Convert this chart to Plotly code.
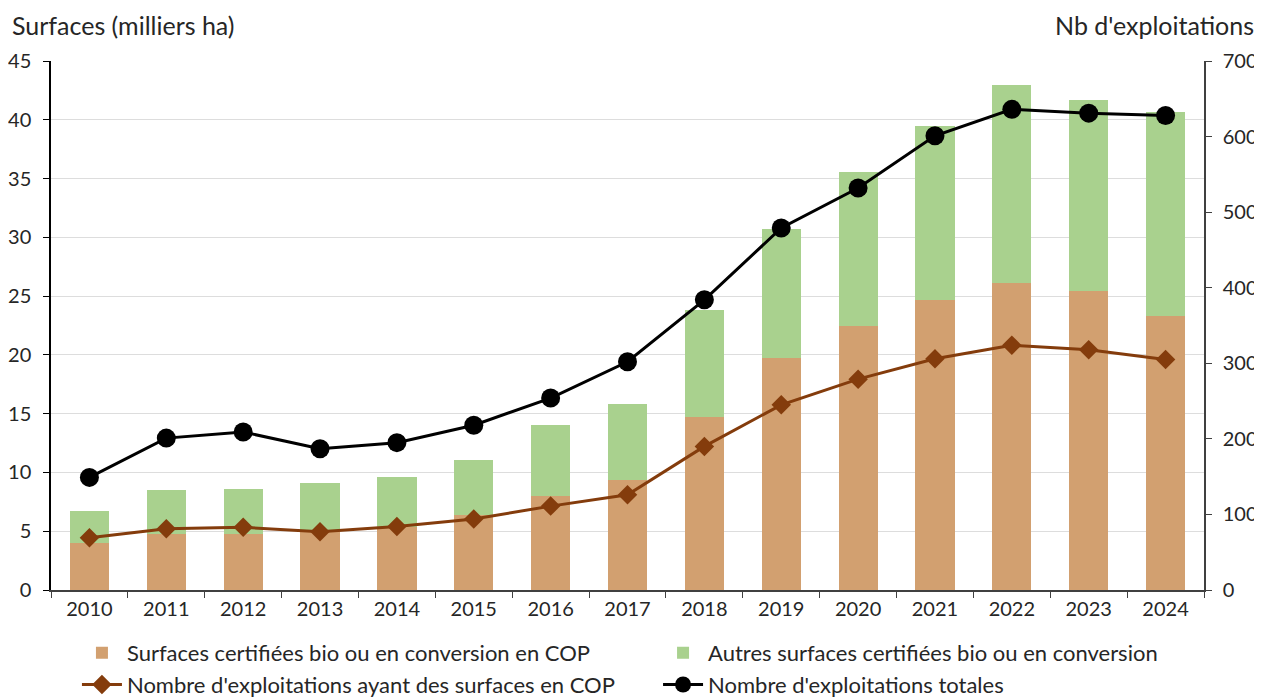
import plotly.graph_objects as go

# Données
years = ['2010', '2011', '2012', '2013', '2014', '2015', '2016', '2017',
         '2018', '2019', '2020', '2021', '2022', '2023', '2024']
surf_cop = [4.0, 4.8, 4.8, 5.0, 5.4, 6.4, 8.0, 9.4, 14.7, 19.7, 22.5, 24.7, 26.1, 25.4, 23.3]
surf_autres = [2.7, 3.7, 3.8, 4.1, 4.2, 4.7, 6.0, 6.4, 9.1, 11.0, 13.1, 14.8, 16.9, 16.3, 17.4]
nb_expl_cop = [69, 81, 83, 77, 84, 94, 111, 126, 190, 245, 279, 306, 324, 318, 305]
nb_expl_tot = [149, 201, 209, 187, 195, 218, 254, 302, 384, 479, 532, 601, 636, 631, 628]

FONT = 'Lato'
TXT = '#262626'

fig = go.Figure()

fig.add_trace(go.Bar(
    x=years, y=surf_cop, name='Surfaces certifiées bio ou en conversion en COP',
    marker_color='#D2A070', marker_line_width=0, legend='legend',
))
fig.add_trace(go.Bar(
    x=years, y=surf_autres, name='Autres surfaces certifiées bio ou en conversion',
    marker_color='#A9D18E', marker_line_width=0, legend='legend2',
))
fig.add_trace(go.Scatter(
    x=years, y=nb_expl_cop, name="Nombre d'exploitations ayant des surfaces en COP",
    mode='lines+markers', yaxis='y2', legend='legend3',
    line=dict(color='#843C0C', width=3),
    marker=dict(symbol='diamond', size=15, color='#843C0C'),
))
fig.add_trace(go.Scatter(
    x=years, y=nb_expl_tot, name="Nombre d'exploitations totales",
    mode='lines+markers', yaxis='y2', legend='legend4',
    line=dict(color='#000000', width=3),
    marker=dict(symbol='circle', size=19, color='#000000'),
))

# une légende par série pour placer les 4 entrées sur 2 lignes / 2 colonnes
leg_common = dict(
    orientation='h', xanchor='left', yanchor='middle',
    font=dict(size=22), itemwidth=40, bgcolor='rgba(0,0,0,0)',
)
col1, col2 = 0.0225, 0.5265
row1, row2 = -0.119, -0.179

# la page ajoute une marge de 8 px autour du graphique
fig.update_layout(
    width=1254, height=692,
    margin=dict(l=43, r=58, t=53, b=110, autoexpand=False),
    barmode='stack', bargap=0.49,
    plot_bgcolor='white', paper_bgcolor='white',
    font=dict(family=FONT, size=20, color=TXT),
    xaxis=dict(
        range=[-0.5, 14.5],
        showline=True, linecolor='#404040', linewidth=1.5,
        ticks='outside', ticklen=6, tickcolor='#404040', tickson='boundaries',
        showgrid=False, automargin=False,
    ),
    yaxis=dict(
        range=[0, 45], dtick=5, showline=True, linecolor='#000000', linewidth=1.5,
        ticks='outside', ticklen=6, tickcolor='#000000', ticklabelstandoff=8,
        showgrid=True, gridcolor='#DDDDDD', gridwidth=1, zeroline=False,
        automargin=False,
    ),
    yaxis2=dict(
        range=[0, 700], dtick=100, overlaying='y', side='right',
        showline=True, linecolor='#404040', linewidth=1.5,
        ticks='outside', ticklen=6, tickcolor='#404040', ticklabelstandoff=7,
        showgrid=False, zeroline=False, automargin=False,
    ),
    legend=dict(leg_common, x=col1, y=row1),
    legend2=dict(leg_common, x=col2, y=row1),
    legend3=dict(leg_common, x=col1, y=row2),
    legend4=dict(leg_common, x=col2, y=row2),
    showlegend=True,
    annotations=[
        dict(text='Surfaces (milliers ha)', xref='paper', yref='paper',
             x=-0.0356, y=1.068, xanchor='left', yanchor='middle', showarrow=False,
             font=dict(size=25, color=TXT)),
        dict(text="Nb d'exploitations", xref='paper', yref='paper',
             x=1.045, y=1.068, xanchor='right', yanchor='middle', showarrow=False,
             font=dict(size=25, color=TXT)),
    ],
)

fig.write_html('out.html')
